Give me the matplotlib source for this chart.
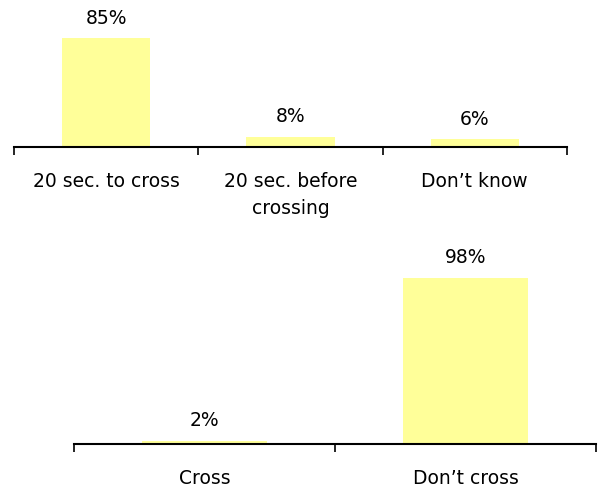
import matplotlib
matplotlib.use('Agg')
import matplotlib.pyplot as plt

top_labels = ['20 sec. to cross', '20 sec. before\ncrossing', 'Don\u2019t know']
top_values = [85, 8, 6]

bottom_labels = ['Cross', 'Don\u2019t cross']
bottom_values = [2, 98]

bar_color = '#FFFF99'
font_size = 13.5


def drawBars(ax, labels, values):
    n = len(values)
    xs = list(range(n))
    ax.bar(xs, values, width=0.48, color=bar_color, zorder=2)
    ax.set_xlim(-0.5, n - 0.5)
    ax.set_ylim(0, 100)
    for s in ['top', 'left', 'right']:
        ax.spines[s].set_visible(False)
    ax.spines['bottom'].set_linewidth(1.5)
    ax.set_yticks([])
    # boundaries get the tick marks, centres get the labels
    ax.set_xticks([i - 0.5 for i in range(n + 1)])
    ax.set_xticklabels([])
    ax.tick_params(axis='x', which='major', length=6, width=1.2, direction='out')
    ax.set_xticks(xs, minor=True)
    ax.set_xticklabels(labels, minor=True, fontsize=font_size, linespacing=1.5)
    ax.tick_params(axis='x', which='minor', length=0, pad=18)
    for x, v in zip(xs, values):
        ax.annotate('%d%%' % v, (x, v), xytext=(0, 14.5), textcoords='offset points',
                    ha='center', va='center', fontsize=font_size)


fig = plt.figure(figsize=(6.01, 4.87), dpi=100)
ax1 = fig.add_axes([0.0233, 0.698, 0.920, 0.263])
ax2 = fig.add_axes([0.123, 0.0883, 0.869, 0.348])
drawBars(ax1, top_labels, top_values)
drawBars(ax2, bottom_labels, bottom_values)

fig.savefig('out.png', dpi=100)
